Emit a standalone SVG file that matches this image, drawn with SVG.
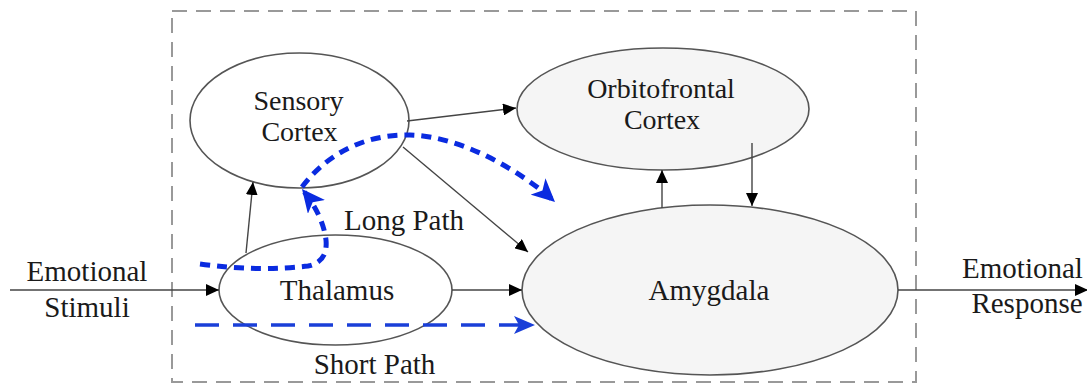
<svg xmlns="http://www.w3.org/2000/svg" width="1087" height="387" viewBox="0 0 1087 387">
<defs>
<style>
.node{stroke:#555;stroke-width:1.6;}
.plain{fill:#fff;}
.shade{fill:#f5f5f5;}
.lbl{font-family:"Liberation Serif","Times New Roman",serif;font-size:29px;fill:#1a1a1a;text-anchor:middle;}
.two{font-size:28px;}
.conn{stroke:#444;stroke-width:1.4;fill:none;marker-end:url(#ah);}
.long{stroke:#0a2be0;stroke-width:5;fill:none;stroke-dasharray:10 7;marker-end:url(#bh);}
.short{stroke:#1a3fd8;stroke-width:3.5;fill:none;stroke-dasharray:24 14;marker-end:url(#bh2);}
</style>
<marker id="ah" markerUnits="userSpaceOnUse" markerWidth="14" markerHeight="12" refX="13" refY="6" orient="auto">
<path d="M0,0 L13,6 L0,12 z" fill="#000"/>
</marker>
<marker id="bh" markerUnits="userSpaceOnUse" markerWidth="24" markerHeight="22" refX="23" refY="11" orient="auto">
<path d="M0,0 L23,11 L0,22 L6,11 z" fill="#0a2be0"/>
</marker>
<marker id="bh2" markerUnits="userSpaceOnUse" markerWidth="22" markerHeight="18" refX="21" refY="9" orient="auto">
<path d="M0,0 L21,9 L0,18 L5,9 z" fill="#1a3fd8"/>
</marker>
</defs>
<rect x="172" y="11" width="744" height="371" fill="none" stroke="#999" stroke-width="2" stroke-dasharray="15 9"/>
<g id="sensory-cortex">
<ellipse class="node plain" cx="299.5" cy="120.5" rx="109.5" ry="67.5"/>
<text class="lbl two" x="298.5" y="110">Sensory</text>
<text class="lbl two" x="299.5" y="141">Cortex</text>
</g>
<g id="orbitofrontal-cortex">
<ellipse class="node shade" cx="663" cy="109" rx="146" ry="61"/>
<text class="lbl two" x="661" y="98">Orbitofrontal</text>
<text class="lbl two" x="662" y="129">Cortex</text>
</g>
<g id="thalamus">
<ellipse class="node plain" cx="335.5" cy="290" rx="116.5" ry="55"/>
<text class="lbl" x="337" y="300">Thalamus</text>
</g>
<g id="amygdala">
<ellipse class="node shade" cx="710" cy="290" rx="188" ry="85"/>
<text class="lbl" x="709" y="300">Amygdala</text>
</g>
<g id="stimuli">
<text class="lbl" x="87" y="281">Emotional</text>
<text class="lbl" x="87" y="317">Stimuli</text>
</g>
<g id="response">
<text class="lbl" x="1022.5" y="278">Emotional</text>
<text class="lbl" x="1027" y="313">Response</text>
</g>
<g id="connectors">
<line class="conn" x1="10" y1="290" x2="219" y2="290"/>
<line class="conn" x1="452" y1="290" x2="522" y2="290"/>
<line class="conn" x1="898" y1="290" x2="1088" y2="290"/>
<line class="conn" x1="246" y1="253" x2="253" y2="182"/>
<line class="conn" x1="407" y1="121" x2="516" y2="108"/>
<line class="conn" x1="403" y1="147" x2="528" y2="252"/>
<line class="conn" x1="662" y1="208" x2="662" y2="170"/>
<line class="conn" x1="752" y1="143" x2="752" y2="206"/>
<path class="long" d="M200,264 Q260,272 308,266 Q328,262 326,240 Q323,215 302,189"/>
<path class="long" d="M302,187 C330,150 370,134 410,135 C460,136 520,170 555,202"/>
<path class="short" d="M195,325 L535,325"/>
<text class="lbl" x="404" y="230">Long Path</text>
<text class="lbl" x="374.5" y="374">Short Path</text>
</g>
</svg>
